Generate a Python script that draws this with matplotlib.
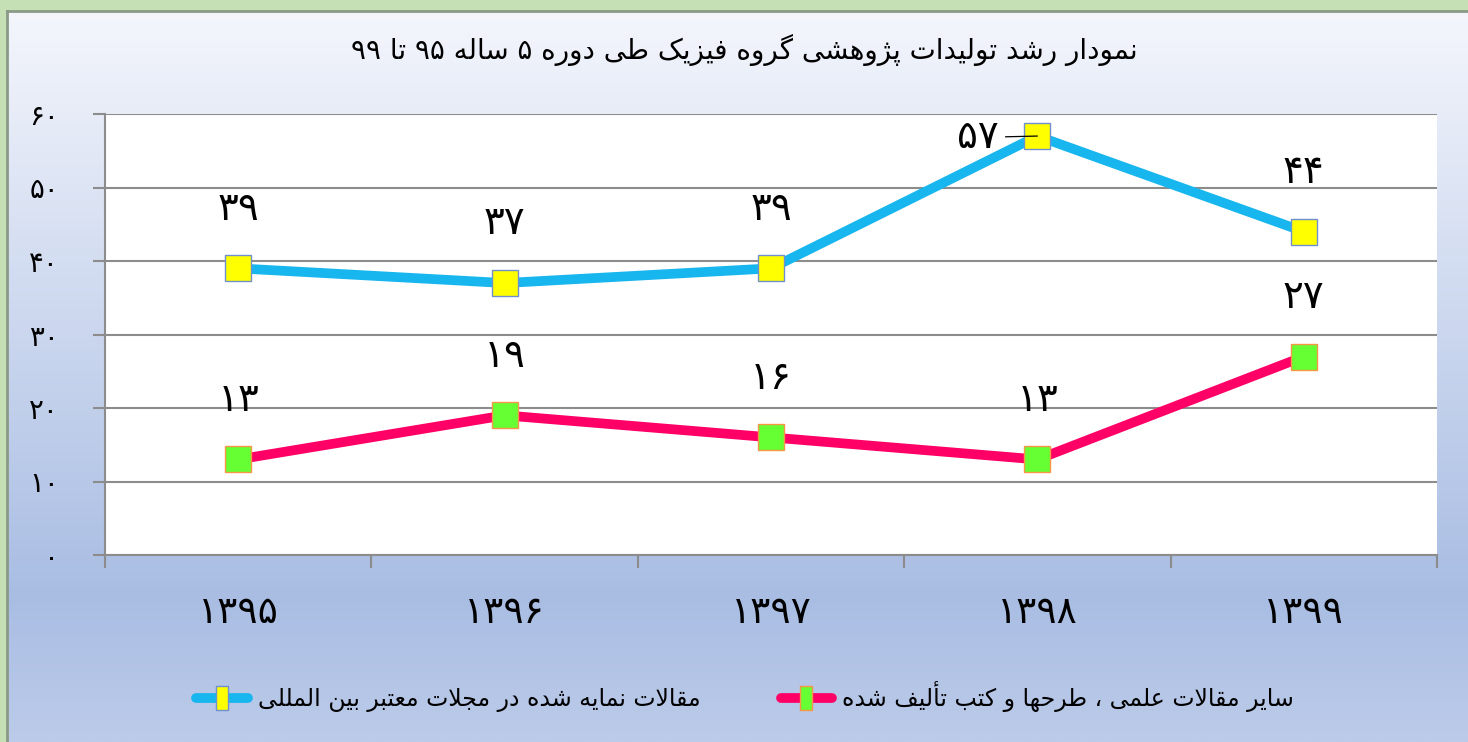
import numpy as np
import matplotlib
matplotlib.use('Agg')
import matplotlib.pyplot as plt
from matplotlib.lines import Line2D

# ------------------------------------------------------------------
# data
# ------------------------------------------------------------------
years = [1395, 1396, 1397, 1398, 1399]
indexed_articles = [39, 37, 39, 57, 44]      # blue series
other_works = [13, 19, 16, 13, 27]           # pink series
y_ticks = [0, 10, 20, 30, 40, 50, 60]

title_fa = "نمودار رشد تولیدات پژوهشی گروه فیزیک طی دوره ۵ ساله ۹۵ تا ۹۹"
label_blue = "مقالات نمایه شده در مجلات معتبر بین المللی"
label_pink = "سایر مقالات علمی ، طرحها و کتب تألیف شده"

# ------------------------------------------------------------------
# simple persian shaping (matplotlib has no complex text layout)
# ------------------------------------------------------------------
# isolated, final, initial, medial
FORMS = {
    'ا': ('\uFE8D', '\uFE8E', None, None),
    'أ': ('\uFE83', '\uFE84', None, None),
    'ب': ('\uFE8F', '\uFE90', '\uFE91', '\uFE92'),
    'پ': ('\uFB56', '\uFB57', '\uFB58', '\uFB59'),
    'ت': ('\uFE95', '\uFE96', '\uFE97', '\uFE98'),
    'ث': ('\uFE99', '\uFE9A', '\uFE9B', '\uFE9C'),
    'ج': ('\uFE9D', '\uFE9E', '\uFE9F', '\uFEA0'),
    'ح': ('\uFEA1', '\uFEA2', '\uFEA3', '\uFEA4'),
    'خ': ('\uFEA5', '\uFEA6', '\uFEA7', '\uFEA8'),
    'د': ('\uFEA9', '\uFEAA', None, None),
    'ذ': ('\uFEAB', '\uFEAC', None, None),
    'ر': ('\uFEAD', '\uFEAE', None, None),
    'ز': ('\uFEAF', '\uFEB0', None, None),
    'ژ': ('\uFB8A', '\uFB8B', None, None),
    'س': ('\uFEB1', '\uFEB2', '\uFEB3', '\uFEB4'),
    'ش': ('\uFEB5', '\uFEB6', '\uFEB7', '\uFEB8'),
    'ص': ('\uFEB9', '\uFEBA', '\uFEBB', '\uFEBC'),
    'ط': ('\uFEC1', '\uFEC2', '\uFEC3', '\uFEC4'),
    'ع': ('\uFEC9', '\uFECA', '\uFECB', '\uFECC'),
    'غ': ('\uFECD', '\uFECE', '\uFECF', '\uFED0'),
    'ف': ('\uFED1', '\uFED2', '\uFED3', '\uFED4'),
    'ق': ('\uFED5', '\uFED6', '\uFED7', '\uFED8'),
    'ک': ('\uFB8E', '\uFB8F', '\uFB90', '\uFB91'),
    'گ': ('\uFB92', '\uFB93', '\uFB94', '\uFB95'),
    'ل': ('\uFEDD', '\uFEDE', '\uFEDF', '\uFEE0'),
    'م': ('\uFEE1', '\uFEE2', '\uFEE3', '\uFEE4'),
    'ن': ('\uFEE5', '\uFEE6', '\uFEE7', '\uFEE8'),
    'ه': ('\uFEE9', '\uFEEA', '\uFEEB', '\uFEEC'),
    'و': ('\uFEED', '\uFEEE', None, None),
    'ی': ('\uFBFC', '\uFBFD', '\uFBFE', '\uFBFF'),
}
LAM_ALEF = {'ا': ('\uFEFB', '\uFEFC'), 'أ': ('\uFEF7', '\uFEF8')}
DIGITS = '۰۱۲۳۴۵۶۷۸۹'


def fa_num(n):
    return ''.join(DIGITS[int(c)] for c in str(n))


def rtl(text):
    out = []
    prev_joins = False
    i = 0
    while i < len(text):
        ch = text[i]
        nxt = text[i + 1] if i + 1 < len(text) else ''
        if ch not in FORMS:
            out.append(ch)
            prev_joins = False
            i += 1
            continue
        if ch == 'ل' and nxt in LAM_ALEF:
            out.append(LAM_ALEF[nxt][1 if prev_joins else 0])
            prev_joins = False
            i += 2
            continue
        iso, fin, ini, med = FORMS[ch]
        joins_next = ini is not None and nxt in FORMS
        if prev_joins and joins_next:
            out.append(med)
        elif prev_joins:
            out.append(fin)
        elif joins_next:
            out.append(ini)
        else:
            out.append(iso)
        prev_joins = joins_next
        i += 1
    # visual order: reverse, but keep digit runs left-to-right
    rev = ''.join(out)[::-1]
    res, run = '', ''
    for ch in rev:
        if ch in DIGITS:
            run += ch
        else:
            res += run[::-1] + ch
            run = ''
    return res + run[::-1]


# ------------------------------------------------------------------
# figure
# ------------------------------------------------------------------
plt.rcParams['font.family'] = ['DejaVu Sans']
W, H = 1468, 742
fig = plt.figure(figsize=(W / 100, H / 100), dpi=100)
fig.patch.set_facecolor('#c5e0b4')

# gradient background of the chart area
bg = fig.add_axes([7 / W, 0, 1 - 7 / W, 1 - 11 / H], zorder=-10)
t = np.linspace(0, 1, 400)[:, None]
top = np.array([244, 246, 252]) / 255
mid = np.array([169, 189, 227]) / 255
bot = np.array([188, 203, 233]) / 255
k = 0.8
grad = np.where(t < k, top + (mid - top) * (t / k), mid + (bot - mid) * ((t - k) / (1 - k)))
bg.imshow(grad[:, None, :], aspect='auto', extent=[0, 1, 0, 1])
bg.set_xlim(0, 1)
bg.set_ylim(0, 1)
for s in ['top', 'left']:
    bg.spines[s].set_color('#8a9a86')
    bg.spines[s].set_linewidth(2)
for s in ['bottom', 'right']:
    bg.spines[s].set_visible(False)
bg.set_xticks([])
bg.set_yticks([])

ax = fig.add_axes([105 / W, 1 - 555 / H, (1437 - 105) / W, (555 - 114) / H])
ax.set_facecolor('white')
x = np.arange(len(years))

ax.plot(x, indexed_articles, color='#17b6ef', lw=7, marker='s', ms=19,
        mfc='#ffff00', mec='#6f8fcf', mew=1, zorder=3)
ax.plot(x, other_works, color='#ff0066', lw=7, marker='s', ms=19,
        mfc='#66ff33', mec='#f79646', mew=1, zorder=3)

# data labels
for xi, v in zip(x, indexed_articles):
    if v == max(indexed_articles):
        ax.annotate(fa_num(v), (xi, v), xytext=(-43, -1), textcoords='offset points',
                    ha='center', va='center', fontsize=28, zorder=4,
                    arrowprops=dict(arrowstyle='-', color='black', lw=0.9,
                                    shrinkA=3, shrinkB=0))
    else:
        ax.annotate(fa_num(v), (xi, v), xytext=(0, 43), textcoords='offset points',
                    ha='center', va='center', fontsize=28)
for xi, v in zip(x, other_works):
    ax.annotate(fa_num(v), (xi, v), xytext=(0, 43), textcoords='offset points',
                ha='center', va='center', fontsize=28)

ax.set_xlim(-0.5, len(years) - 0.5)
ax.set_ylim(0, 60)
ax.set_yticks(y_ticks)
ax.set_yticklabels([fa_num(v) for v in y_ticks], fontsize=20)
ax.set_xticks(np.arange(-0.5, len(years), 1.0))
ax.set_xticklabels([])
ax.set_xticks(x, minor=True)
ax.set_xticklabels([fa_num(y) for y in years], minor=True, fontsize=27)
ax.tick_params(axis='x', which='major', length=9, width=1.5, color='#8c8c8c')
ax.tick_params(axis='x', which='minor', length=0, pad=29)
ax.tick_params(axis='y', length=9, width=1.5, color='#8c8c8c', pad=24)
ax.grid(axis='y', color='#8c8c8c', lw=1.5)
ax.set_axisbelow(True)
for s in ['top', 'right']:
    ax.spines[s].set_visible(False)
for s in ['left', 'bottom']:
    ax.spines[s].set_color('#8c8c8c')
    ax.spines[s].set_linewidth(1.5)

fig.text(744 / W, 1 - 50 / H, rtl(title_fa), ha='center', va='center', fontsize=20)

rect = [(-0.5, -1), (0.5, -1), (0.5, 1), (-0.5, 1), (-0.5, -1)]
h_blue = Line2D([], [], color='#17b6ef', lw=7, solid_capstyle='round', marker=rect,
                ms=17, mfc='#ffff00', mec='#6f8fcf', mew=1)
h_pink = Line2D([], [], color='#ff0066', lw=7, solid_capstyle='round', marker=rect,
                ms=17, mfc='#66ff33', mec='#f79646', mew=1)
fig.legend([h_blue, h_pink], [rtl(label_blue), rtl(label_pink)], loc='center',
           bbox_to_anchor=(745 / W, 1 - 697 / H), ncol=2, frameon=False,
           fontsize=17, handlelength=2.2, handletextpad=0.4, columnspacing=3.4)

plt.savefig('out.png', dpi=100)
